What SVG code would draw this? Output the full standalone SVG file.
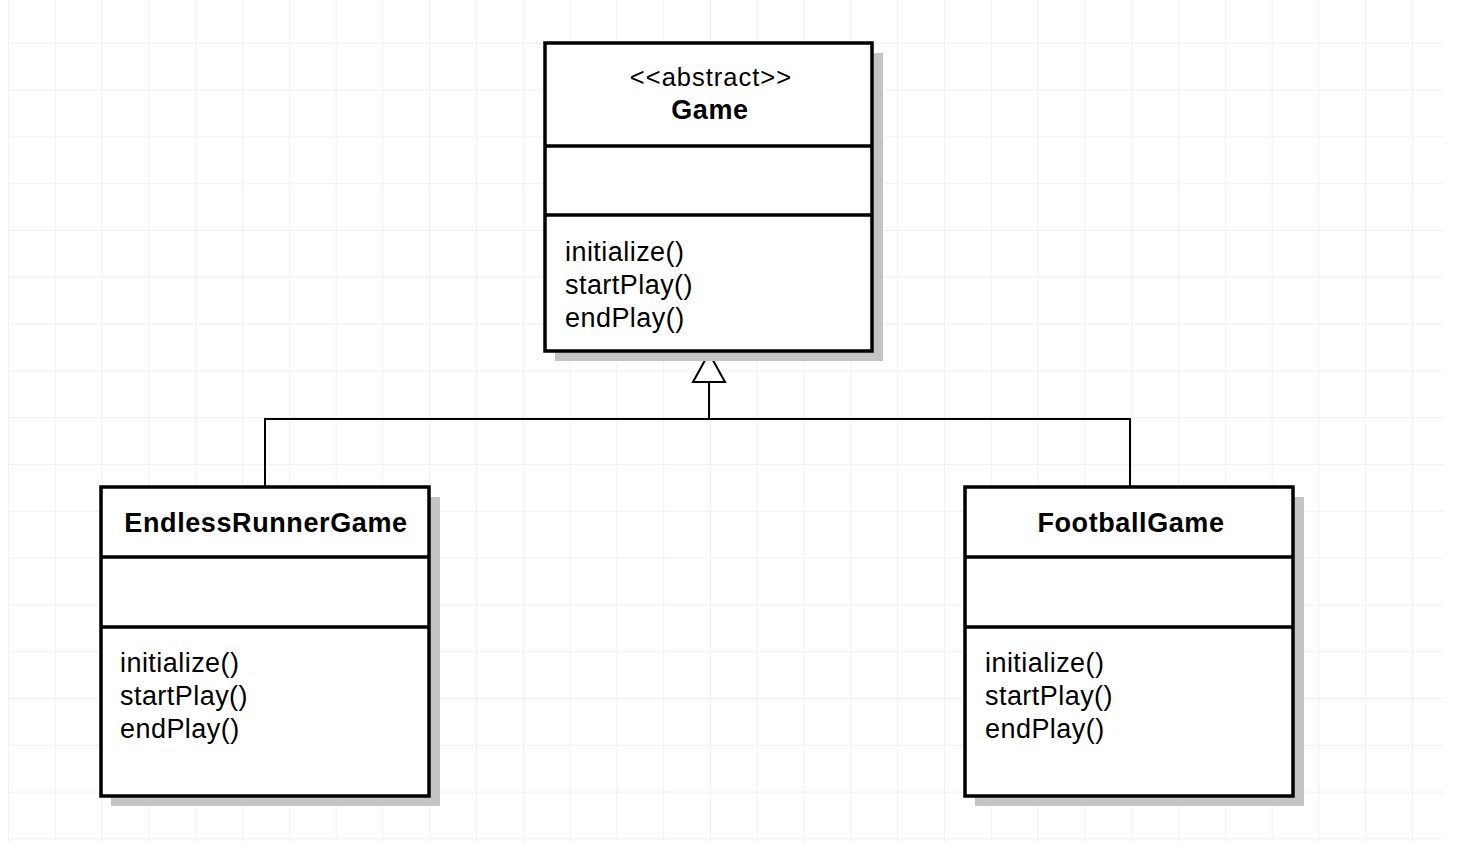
<svg xmlns="http://www.w3.org/2000/svg" width="1462" height="842" viewBox="0 0 1462 842">
  <defs>
    <pattern id="grid" x="8" y="-4" width="46.8" height="46.8" patternUnits="userSpaceOnUse">
      <path d="M0 0V46.8M0 0H46.8" fill="none" stroke="#ebebf3" stroke-width="1.5"/>
    </pattern>
  </defs>
  <style>
    .shadow { fill: #c4c4c4; }
    .box { fill: #ffffff; stroke: #000000; stroke-width: 3.5; }
    .div { stroke: #000000; stroke-width: 3.5; }
    .conn { fill: none; stroke: #000000; stroke-width: 2; }
    .stereo { font-family: "Liberation Sans", Arial, sans-serif; font-size: 25.5px; letter-spacing: 1px; fill: #000; text-anchor: middle; }
    .title { font-family: "Liberation Sans", Arial, sans-serif; font-size: 27px; letter-spacing: 0.6px; font-weight: bold; fill: #000; text-anchor: middle; }
    .op { font-family: "Liberation Sans", Arial, sans-serif; font-size: 27px; letter-spacing: 0.45px; fill: #000; }
  </style>
  <rect width="1462" height="842" fill="#ffffff"/>
  <rect x="8" y="0" width="1436" height="842" fill="url(#grid)"/>

  <g id="connectors">
    <path class="conn" d="M709 382V419M265 487V419H1130V487"/>
    <polygon points="709,353 693,382 725,382" fill="#ffffff" stroke="#000" stroke-width="2"/>
  </g>

  <g id="game">
    <rect class="shadow" x="555" y="53" width="328" height="308"/>
    <rect class="box" x="545" y="43" width="327" height="308"/>
    <line class="div" x1="545" y1="146" x2="872" y2="146"/>
    <line class="div" x1="545" y1="215" x2="872" y2="215"/>
    <text class="stereo" x="711" y="86">&lt;&lt;abstract&gt;&gt;</text>
    <text class="title" x="710" y="119">Game</text>
    <text class="op" x="565" y="261">initialize()</text>
    <text class="op" x="565" y="294">startPlay()</text>
    <text class="op" x="565" y="327">endPlay()</text>
  </g>

  <g id="endlessRunnerGame">
    <rect class="shadow" x="111" y="497" width="329" height="309"/>
    <rect class="box" x="101" y="487" width="328" height="309"/>
    <line class="div" x1="101" y1="557" x2="429" y2="557"/>
    <line class="div" x1="101" y1="627" x2="429" y2="627"/>
    <text class="title" x="266" y="532">EndlessRunnerGame</text>
    <text class="op" x="120" y="672">initialize()</text>
    <text class="op" x="120" y="705">startPlay()</text>
    <text class="op" x="120" y="738">endPlay()</text>
  </g>

  <g id="footballGame">
    <rect class="shadow" x="975" y="497" width="329" height="309"/>
    <rect class="box" x="965" y="487" width="328" height="309"/>
    <line class="div" x1="965" y1="557" x2="1293" y2="557"/>
    <line class="div" x1="965" y1="627" x2="1293" y2="627"/>
    <text class="title" x="1131" y="532">FootballGame</text>
    <text class="op" x="985" y="672">initialize()</text>
    <text class="op" x="985" y="705">startPlay()</text>
    <text class="op" x="985" y="738">endPlay()</text>
  </g>
</svg>
